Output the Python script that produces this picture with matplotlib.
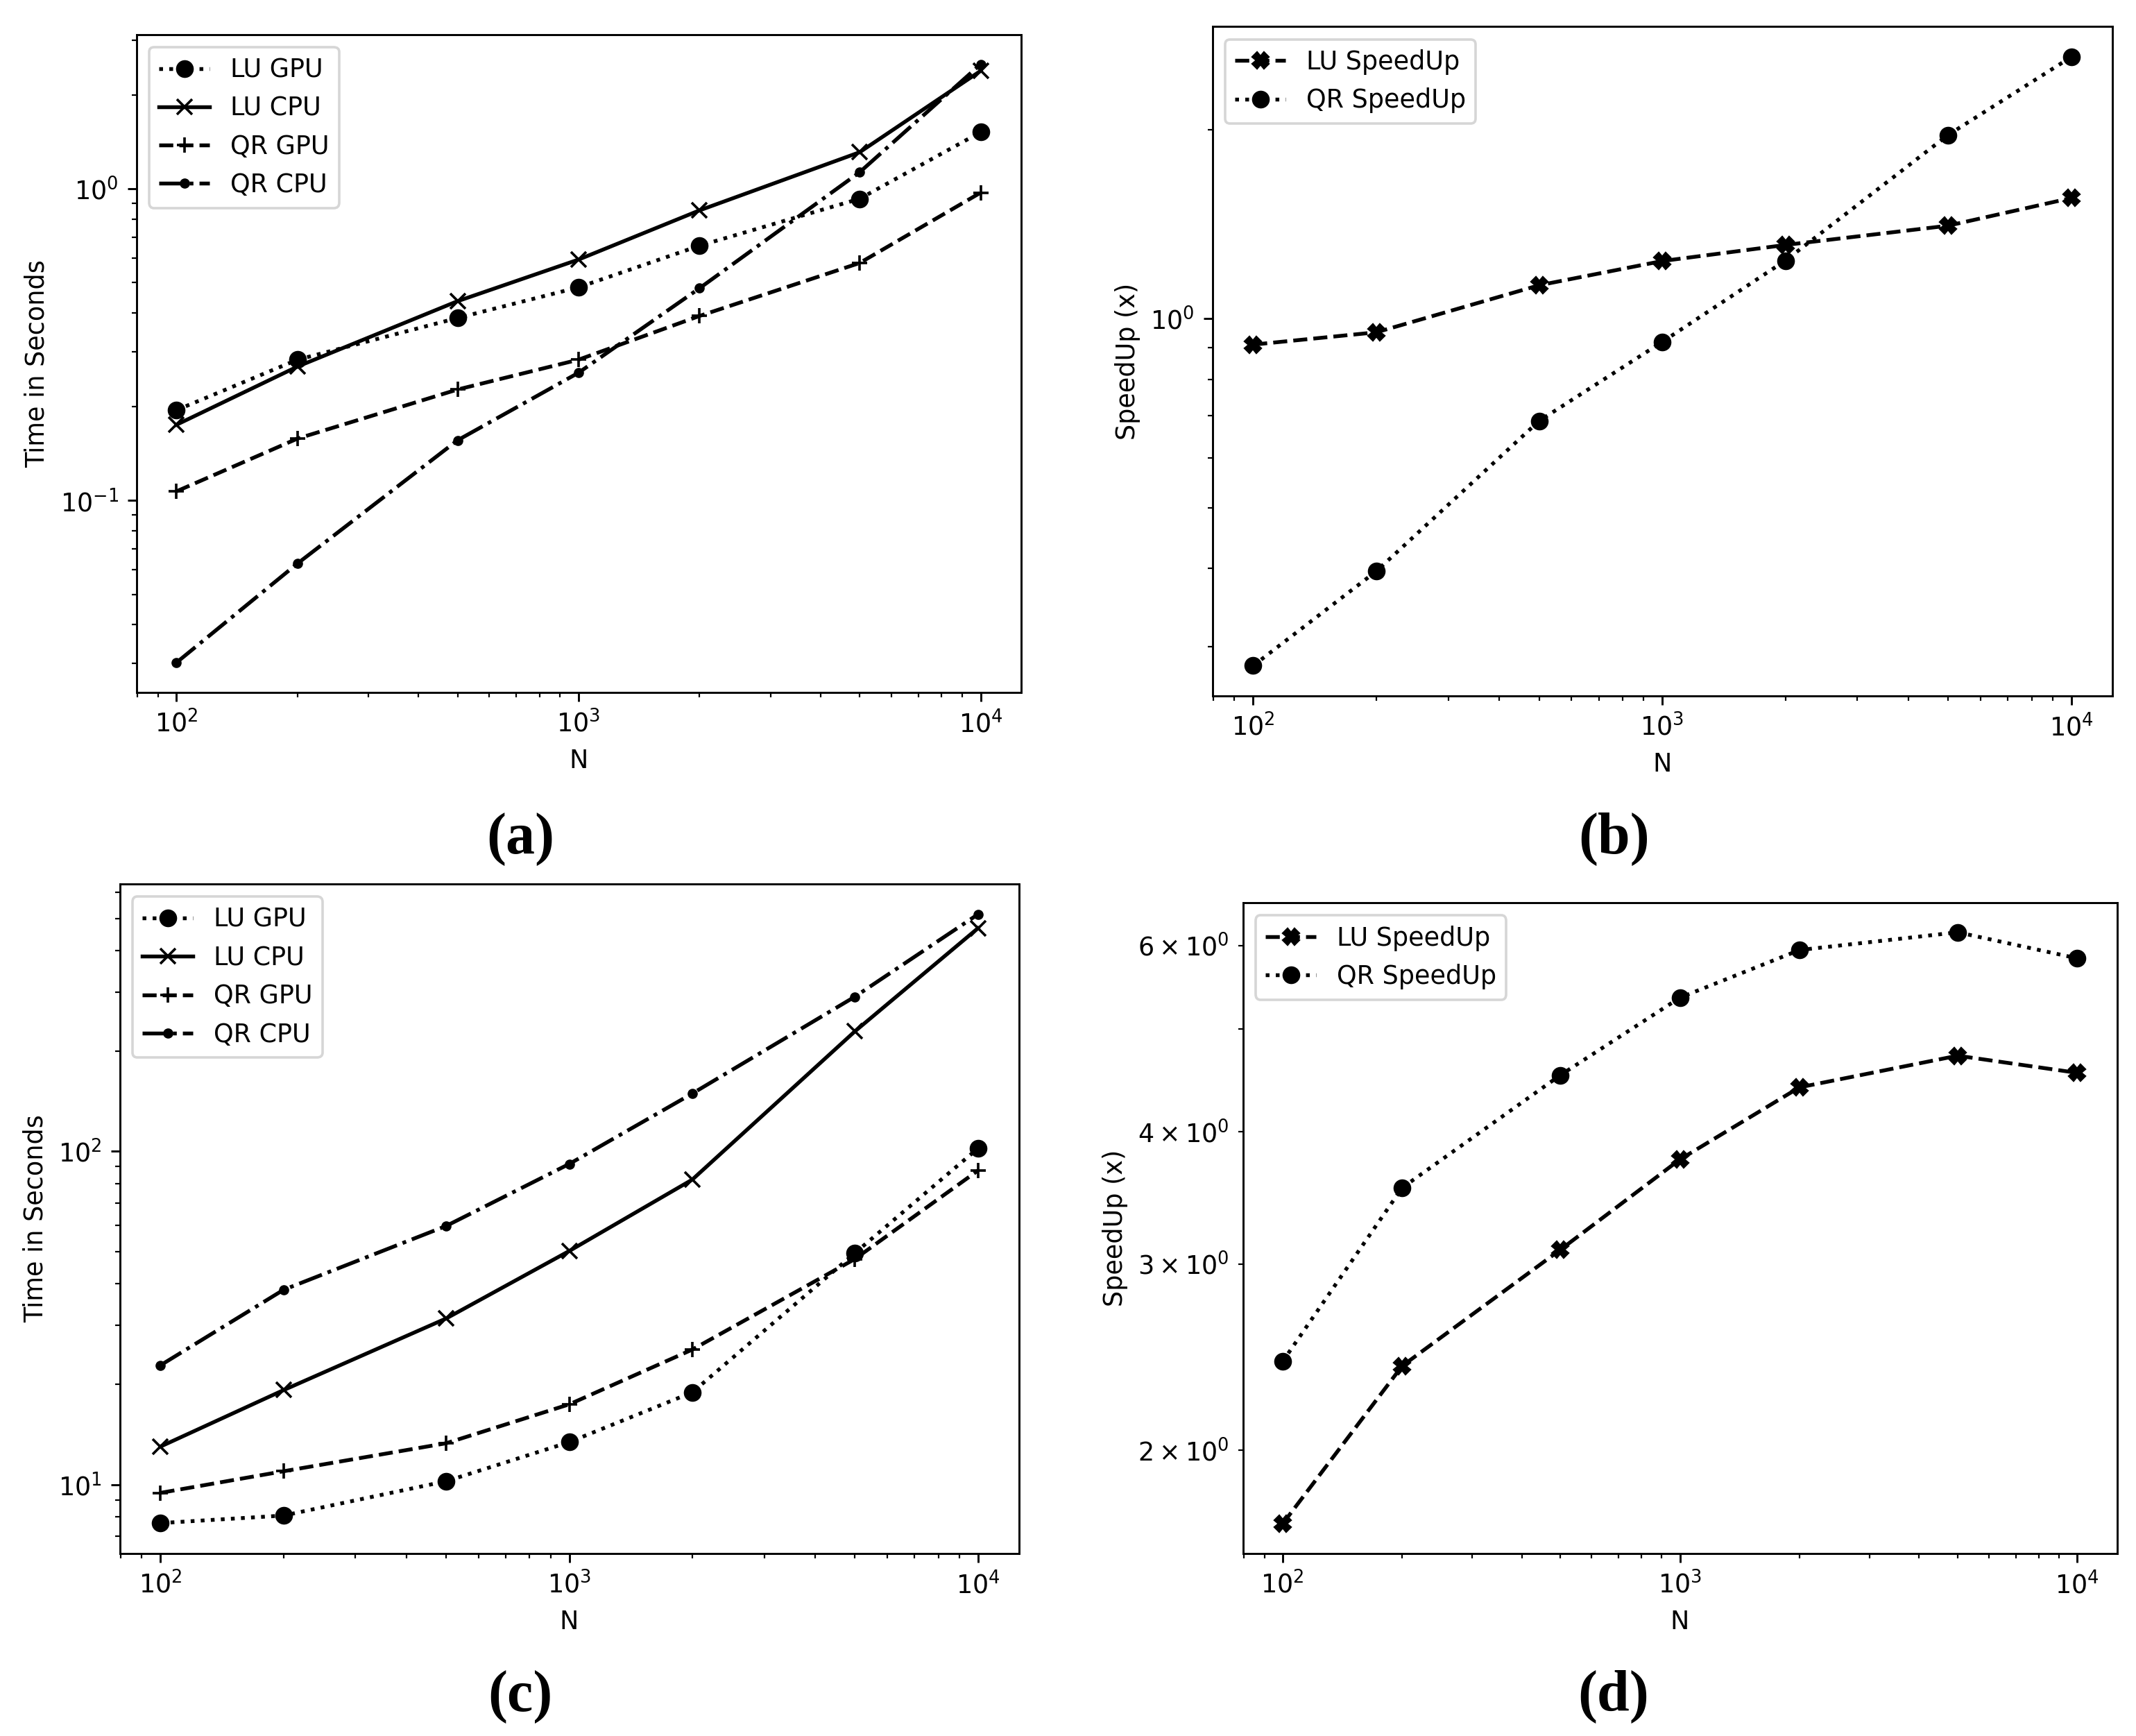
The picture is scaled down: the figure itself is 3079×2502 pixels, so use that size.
import matplotlib
matplotlib.use("Agg")
import matplotlib.pyplot as plt

# ---- data ----
N = [100, 200, 500, 1000, 2000, 5000, 10000]

# panel (a): time in seconds
a_lu_gpu = [0.195, 0.283, 0.385, 0.483, 0.657, 0.929, 1.52]
a_lu_cpu = [0.175, 0.269, 0.436, 0.593, 0.853, 1.31, 2.39]
a_qr_gpu = [0.107, 0.158, 0.227, 0.283, 0.391, 0.578, 0.972]
a_qr_cpu = [0.0302, 0.0628, 0.156, 0.257, 0.480, 1.13, 2.51]

# panel (b): speedup
b_lu_speedup = [0.909, 0.951, 1.13, 1.235, 1.31, 1.406, 1.556]
b_qr_speedup = [0.280, 0.396, 0.687, 0.918, 1.237, 1.961, 2.61]

# panel (c): time in seconds
c_lu_gpu = [7.66, 8.07, 10.23, 13.4, 18.9, 49.5, 102]
c_lu_cpu = [13.0, 19.2, 31.5, 50.2, 82.2, 229, 467]
c_qr_gpu = [9.44, 10.96, 13.3, 17.4, 25.4, 47.5, 87.5]
c_qr_cpu = [22.8, 38.4, 59.7, 91.6, 149, 291, 514]

# panel (d): speedup
d_lu_speedup = [1.704, 2.403, 3.094, 3.766, 4.406, 4.72, 4.547]
d_qr_speedup = [2.426, 3.541, 4.524, 5.355, 5.94, 6.174, 5.834]

time_labels = ["LU GPU", "LU CPU", "QR GPU", "QR CPU"]
speed_labels = ["LU SpeedUp", "QR SpeedUp"]
panel_labels = ["(a)", "(b)", "(c)", "(d)"]

W, H = 3079, 2502
DPI = 263
fig = plt.figure(figsize=(W / DPI, H / DPI), dpi=DPI)


def rect(l, r, t, b):
    return [l / W, 1 - b / H, (r - l) / W, (b - t) / H]


def time_plot(ax, lu_gpu, lu_cpu, qr_gpu, qr_cpu):
    ax.plot(N, lu_gpu, 'k:', marker='o', label=time_labels[0])
    ax.plot(N, lu_cpu, 'k-', marker='x', label=time_labels[1])
    ax.plot(N, qr_gpu, 'k--', marker='+', label=time_labels[2])
    ax.plot(N, qr_cpu, 'k-.', marker='.', label=time_labels[3])
    ax.set_xscale('log')
    ax.set_yscale('log')
    ax.set_xlabel('N')
    ax.set_ylabel('Time in Seconds')
    ax.legend(loc='upper left')


def speed_plot(ax, lu, qr):
    ax.plot(N, lu, 'k--', marker='X', label=speed_labels[0])
    ax.plot(N, qr, 'k:', marker='o', label=speed_labels[1])
    ax.set_xscale('log')
    ax.set_yscale('log')
    ax.set_xlabel('N')
    ax.set_ylabel('SpeedUp (x)')
    ax.legend(loc='upper left')


ax_a = fig.add_axes(rect(196.5, 1471.5, 49.5, 998))
time_plot(ax_a, a_lu_gpu, a_lu_cpu, a_qr_gpu, a_qr_cpu)

ax_b = fig.add_axes(rect(1747.5, 3044.6, 38.3, 1003.3))
speed_plot(ax_b, b_lu_speedup, b_qr_speedup)

ax_c = fig.add_axes(rect(172.5, 1468.5, 1274, 2239))
time_plot(ax_c, c_lu_gpu, c_lu_cpu, c_qr_gpu, c_qr_cpu)

ax_d = fig.add_axes(rect(1791.5, 3051.6, 1301, 2239))
speed_plot(ax_d, d_lu_speedup, d_qr_speedup)

label_pos = [(750, 1209), (2327, 1209), (750, 2445), (2326, 2445)]
for txt, (x, y) in zip(panel_labels, label_pos):
    fig.text(x / W, 1 - y / H, txt, ha='center', va='center',
             family='Liberation Serif', fontweight='bold', fontsize=23)

fig.savefig('out.png', dpi=DPI)
